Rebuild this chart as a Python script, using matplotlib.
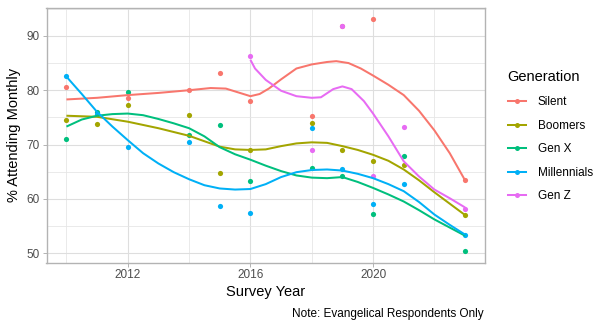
import matplotlib
matplotlib.use("Agg")
import matplotlib.pyplot as plt
from matplotlib.lines import Line2D
from matplotlib.ticker import MultipleLocator

plt.rcParams['font.family'] = ['Liberation Sans', 'DejaVu Sans']

# survey points per generation
silent_years = [2010, 2012, 2014, 2015, 2016, 2018, 2019, 2020, 2023]
silent_pct = [80.5, 78.5, 80.0, 83.2, 78.1, 75.2, 91.9, 93.1, 63.4]

boomers_years = [2010, 2011, 2012, 2014, 2015, 2016, 2018, 2019, 2020, 2021, 2023]
boomers_pct = [74.5, 73.7, 77.2, 75.35, 64.7, 69.0, 73.9, 68.9, 66.9, 66.2, 57.0]

genx_years = [2010, 2011, 2012, 2014, 2015, 2016, 2018, 2019, 2020, 2021, 2023]
genx_pct = [71.0, 75.9, 79.6, 71.7, 73.5, 63.3, 65.6, 64.2, 57.2, 67.9, 50.4]

mill_years = [2010, 2011, 2012, 2014, 2015, 2016, 2018, 2019, 2020, 2021, 2023]
mill_pct = [82.55, 75.7, 69.5, 70.5, 58.7, 57.3, 73.0, 65.5, 59.1, 62.7, 53.4]

genz_years = [2016, 2018, 2019, 2020, 2021, 2023]
genz_pct = [86.35, 68.9, 91.9, 64.2, 73.15, 58.1]

# smoothed trend lines
silent_fit_x = [2010, 2011, 2012, 2013, 2014, 2014.7, 2015.2, 2015.6, 2016, 2016.3, 2016.6,
                2017, 2017.5, 2018, 2018.5, 2018.8, 2019.2, 2019.6, 2020, 2020.5, 2021,
                2021.5, 2022, 2022.5, 2023]
silent_fit_y = [78.3, 78.6, 79.1, 79.5, 80.0, 80.4, 80.3, 79.6, 78.9, 79.3, 80.3,
                82.0, 84.0, 84.75, 85.2, 85.35, 85.0, 84.0, 82.7, 81.0, 79.1,
                76.2, 72.6, 68.4, 63.4]

boomers_fit_x = [2010, 2011, 2012, 2013, 2014, 2014.5, 2015, 2015.5, 2016, 2016.5, 2017,
                 2017.5, 2018, 2018.5, 2019, 2019.5, 2020, 2020.5, 2021, 2021.5, 2022,
                 2022.5, 2023]
boomers_fit_y = [75.3, 75.1, 74.2, 73.0, 71.6, 70.6, 69.6, 69.1, 69.0, 69.1, 69.7,
                 70.2, 70.4, 70.3, 69.7, 69.0, 68.1, 67.0, 65.4, 63.4, 61.2,
                 59.1, 57.0]

genx_fit_x = [2010, 2010.5, 2011, 2011.5, 2012, 2012.5, 2013, 2013.5, 2014, 2014.5, 2015,
              2015.5, 2016, 2016.5, 2017, 2017.5, 2018, 2018.5, 2019, 2019.5, 2020,
              2020.5, 2021, 2021.5, 2022, 2022.5, 2023]
genx_fit_y = [73.3, 74.6, 75.3, 75.6, 75.7, 75.4, 74.7, 73.9, 73.0, 71.5, 69.5,
              68.2, 67.2, 66.1, 65.1, 64.3, 63.9, 63.8, 64.0, 63.1, 62.0,
              60.8, 59.5, 57.9, 56.2, 54.7, 53.2]

mill_fit_x = [2010, 2010.5, 2011, 2011.5, 2012, 2012.5, 2013, 2013.5, 2014, 2014.5, 2015,
              2015.5, 2016, 2016.5, 2017, 2017.5, 2018, 2018.5, 2019, 2019.5, 2020,
              2020.5, 2021, 2021.5, 2022, 2022.5, 2023]
mill_fit_y = [82.5, 79.3, 76.0, 73.3, 70.8, 68.4, 66.5, 64.9, 63.6, 62.5, 61.9,
              61.7, 61.8, 62.7, 64.0, 64.9, 65.3, 65.4, 65.2, 64.6, 63.8,
              62.7, 61.4, 59.4, 57.1, 55.2, 53.4]

genz_fit_x = [2016, 2016.15, 2016.5, 2017, 2017.5, 2018, 2018.3, 2018.7, 2019, 2019.3,
              2019.7, 2020, 2020.5, 2021, 2021.5, 2022, 2022.5, 2023]
genz_fit_y = [85.6, 84.0, 81.9, 79.9, 78.9, 78.6, 78.7, 80.2, 80.7, 80.2,
              78.0, 75.7, 71.5, 66.9, 64.1, 61.7, 60.1, 58.4]

generations = ['Silent', 'Boomers', 'Gen X', 'Millennials', 'Gen Z']
colors = ['#F8766D', '#A3A500', '#00BF7D', '#00B0F6', '#E76BF3']
points = [(silent_years, silent_pct), (boomers_years, boomers_pct), (genx_years, genx_pct),
          (mill_years, mill_pct), (genz_years, genz_pct)]
fits = [(silent_fit_x, silent_fit_y), (boomers_fit_x, boomers_fit_y), (genx_fit_x, genx_fit_y),
        (mill_fit_x, mill_fit_y), (genz_fit_x, genz_fit_y)]

fig = plt.figure(figsize=(6.11, 3.27), dpi=100)
ax = fig.add_axes([46.5 / 611, 1 - 262.5 / 327, (485 - 46.5) / 611, (262.5 - 7.5) / 327])

for (xs, ys), c in zip(points, colors):
    ax.scatter(xs, ys, s=14, color=c, linewidths=0, zorder=3)
for (xs, ys), c in zip(fits, colors):
    ax.plot(xs, ys, color=c, lw=1.45, zorder=4, solid_capstyle='butt')

ax.margins(x=0.05, y=0.05)
ax.xaxis.set_major_locator(MultipleLocator(4))
ax.xaxis.set_minor_locator(MultipleLocator(2))
ax.yaxis.set_major_locator(MultipleLocator(10))
ax.yaxis.set_minor_locator(MultipleLocator(5))
ax.set_xticks([2012, 2016, 2020])

ax.grid(which='major', color='#DEDEDE', lw=0.8)
ax.grid(which='minor', color='#E6E6E6', lw=0.6)
ax.set_axisbelow(True)
for sp in ax.spines.values():
    sp.set_color('#B3B3B3')
    sp.set_linewidth(1.0)

ax.tick_params(which='major', length=2.7, width=0.7, color='#B3B3B3',
               labelsize=8.45, labelcolor='#4D4D4D', pad=2.2)
ax.tick_params(which='minor', length=0)

ax.set_xlabel('Survey Year', fontsize=10.56, labelpad=2.5)
ax.set_ylabel('% Attending Monthly', fontsize=10.56, labelpad=4)

handles = [Line2D([0], [0], color=c, lw=1.45, marker='o', markersize=3.6, markeredgewidth=0)
           for c in colors]
leg = fig.legend(handles, generations, title='Generation', loc='upper left',
                 bbox_to_anchor=(503 / 611, 1 - 65 / 327), frameon=False,
                 fontsize=8.45, title_fontsize=10.56, handlelength=1.55,
                 handletextpad=1.0, labelspacing=0.98, borderaxespad=0)
leg._legend_box.align = 'left'
leg._legend_box.sep = 9

fig.text(484 / 611, 1 - 314.5 / 327, 'Note: Evangelical Respondents Only',
         ha='right', va='center', fontsize=8.45)

fig.savefig('out.png', dpi=100)
